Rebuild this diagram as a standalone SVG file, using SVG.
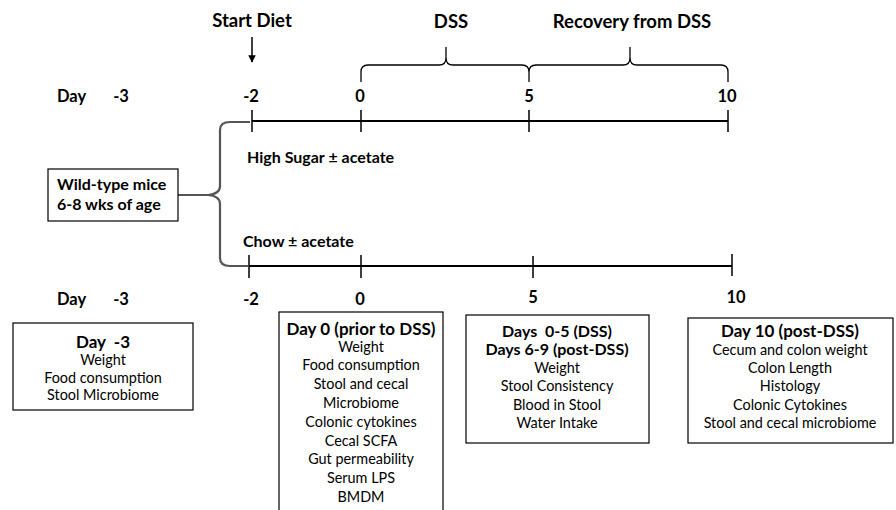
<svg xmlns="http://www.w3.org/2000/svg" width="896" height="510" viewBox="0 0 896 510">
<defs>
<style>
text{font-family:Lato,"Liberation Sans",sans-serif;fill:#000}
.b{font-weight:bold;font-size:16px}
.big{font-weight:bold;font-size:18.5px;text-anchor:middle}
.ax1{font-weight:bold;font-size:16.5px}
.t{font-size:14.4px;text-anchor:middle}
.h{font-weight:bold;font-size:17px;text-anchor:middle}
.h2{font-weight:bold;font-size:16px;text-anchor:middle}
.c{text-anchor:middle}
.ax{stroke:#000;stroke-width:2;fill:none}
.tk{stroke:#000;stroke-width:1.5;fill:none}
.br{stroke:#000;stroke-width:1.3;fill:none}
.gb{stroke:#555;stroke-width:2.2;fill:none}
.box{fill:#fff;stroke:#000;stroke-width:1.2}
</style>
<marker id="ah" viewBox="0 0 10 10" refX="9" refY="5" markerWidth="5" markerHeight="5" orient="auto"><path d="M0,0 L10,5 L0,10 z" fill="#000"/></marker>
</defs>
<rect width="896" height="510" fill="#fff"/>

<g id="labels-top">
<text class="big" x="252" y="27">Start Diet</text>
<text class="big" x="451" y="28">DSS</text>
<text class="big" x="632" y="28">Recovery from DSS</text>
<text class="ax1" x="57" y="102">Day</text>
<text class="ax1 c" x="121" y="102">-3</text>
<text class="ax1 c" x="251" y="102">-2</text>
<text class="ax1 c" x="360" y="102">0</text>
<text class="ax1 c" x="529" y="102">5</text>
<text class="ax1 c" x="727" y="102">10</text>
<text class="b" x="247" y="163">High Sugar ± acetate</text>
<text class="b" x="243" y="247">Chow ± acetate</text>
<text class="ax1" x="57" y="305">Day</text>
<text class="ax1 c" x="121" y="305">-3</text>
<text class="ax1 c" x="251" y="305">-2</text>
<text class="ax1 c" x="360" y="305">0</text>
<text class="ax1 c" x="533" y="303">5</text>
<text class="ax1 c" x="736" y="303">10</text>
</g>

<g id="connectors">
<line class="tk" x1="252" y1="37" x2="252" y2="62" marker-end="url(#ah)"/>
<path class="br" d="M361,82 V72 Q361,65 368,65 H439 Q446,65 446,58 V47 V58 Q446,65 453,65 H522 Q529,65 529,72 V82 V72 Q529,65 536,65 H623 Q630,65 630,58 V47 V58 Q630,65 637,65 H721 Q728,65 728,72 V82"/>
<line class="ax" x1="252" y1="121" x2="728" y2="121"/>
<path class="tk" d="M252,110 V132 M361,110 V132 M529,110 V132 M728,110 V132"/>
<line class="ax" x1="249" y1="266" x2="732" y2="266"/>
<path class="tk" d="M249,255 V278 M361,255 V278 M533,256 V278 M732,254 V276"/>
<path class="gb" d="M178,195 H208 Q220,194 220,186 V130 Q220,122 230,122 H250 M208,195 Q220,196 220,204 V258 Q220,266 230,266 H248"/>
</g>

<g id="wild-type">
<rect class="box" x="48" y="169" width="130" height="52"/>
<text class="b" x="57" y="190">Wild-type mice</text>
<text class="b" x="57" y="210">6-8 wks of age</text>
</g>

<g id="day-3">
<rect class="box" x="13" y="323" width="180" height="87"/>
<text class="h" x="103" y="348">Day&#160; -3</text>
<text class="t" x="103" y="365">Weight</text>
<text class="t" x="103" y="383">Food consumption</text>
<text class="t" x="103" y="400">Stool Microbiome</text>
</g>

<g id="day0">
<rect class="box" x="279" y="312" width="164" height="210"/>
<text class="h" x="361" y="335">Day 0 (prior to DSS)</text>
<text class="t" x="361" y="352">Weight</text>
<text class="t" x="361" y="370">Food consumption</text>
<text class="t" x="361" y="389">Stool and cecal</text>
<text class="t" x="361" y="408">Microbiome</text>
<text class="t" x="361" y="427">Colonic cytokines</text>
<text class="t" x="361" y="446">Cecal SCFA</text>
<text class="t" x="361" y="464">Gut permeability</text>
<text class="t" x="361" y="483">Serum LPS</text>
<text class="t" x="361" y="502">BMDM</text>
</g>

<g id="days0-5">
<rect class="box" x="466" y="315" width="183" height="128"/>
<text class="h2" x="557" y="337">Days&#160; 0-5 (DSS)</text>
<text class="h2" x="557" y="355">Days 6-9 (post-DSS)</text>
<text class="t" x="557" y="373">Weight</text>
<text class="t" x="557" y="391">Stool Consistency</text>
<text class="t" x="557" y="410">Blood in Stool</text>
<text class="t" x="557" y="428">Water Intake</text>
</g>

<g id="day10">
<rect class="box" x="688" y="318" width="205" height="125"/>
<text class="h" x="790" y="337">Day 10 (post-DSS)</text>
<text class="t" x="790" y="355">Cecum and colon weight</text>
<text class="t" x="790" y="373">Colon Length</text>
<text class="t" x="790" y="391">Histology</text>
<text class="t" x="790" y="410">Colonic Cytokines</text>
<text class="t" x="790" y="428">Stool and cecal microbiome</text>
</g>
</svg>
